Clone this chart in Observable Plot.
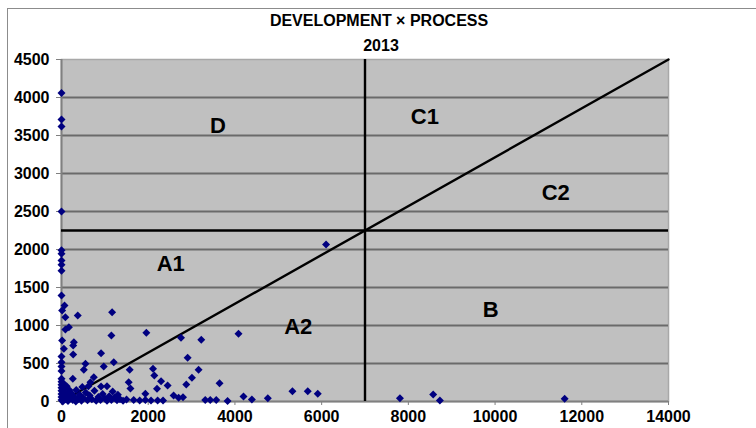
<!DOCTYPE html>
<html>
<head>
<meta charset="utf-8">
<script src="https://cdn.jsdelivr.net/npm/d3@7"></script>
<script src="https://cdn.jsdelivr.net/npm/@observablehq/plot@0.6"></script>
<style>
  body { margin: 0; background: #fff; }
  #chart { position: relative; width: 756px; height: 428px; overflow: hidden; }
  #chart .outline { position: absolute; left: 7px; top: 8px; width: 820px; height: 500px;
    border: 1.5px solid #8c8c8c; box-sizing: border-box; }
  #chart svg { position: absolute; left: 0; top: 0; }
</style>
</head>
<body>
<div id="chart"><div class="outline"></div></div>
<script>
// Development (x) and process (y) scores, 2013
const devX = [
  0, 0, 0, 0, 0, 0, 0, 0, 0, 0,
  70, 15, 90, 375, 1167, 170, 90, 1150, 15, 285,
  270, 55, 270, 0, 0, 0, 0, 913, 1205, 553,
  975, 515, 1573, 261, 745, 668, 913, 1550, 1590,
  1957, 2756, 3224, 2909, 2111, 2141, 3162, 2296, 3009, 2878,
  2203, 2448, 3645, 1934, 2586, 2701, 2802,
  1665, 1803, 1934, 2065, 2217, 2342, 3316, 3431, 3569, 3830,
  4083, 4198, 4391, 4759, 5326, 5680, 5910,
  7806, 8573, 8727, 11605, 6102,
  0, 0, 0, 0, 0, 0, 0, 0, 40, 60,
  80, 50, 100, 120, 150, 180, 200, 230, 260, 300,
  340, 380, 420, 460, 500, 560, 600, 650, 700, 760,
  800, 850, 900, 950, 1000, 1050, 1100, 1150, 1220, 1280,
  1350, 1420, 1500, 30, 150, 330, 480, 620, 1050, 1180, 1300
];
const procY = [
  4060, 3710, 3620, 2500, 1990, 1945, 1855, 1800, 1720, 1395,
  1263, 1197, 1110, 1131, 1175, 978, 947, 868, 803, 780,
  737, 693, 618, 592, 517, 460, 400, 636, 517, 496,
  461, 417, 417, 298, 320, 254, 197, 254, 170,
  904, 838, 812, 575, 430, 342, 417, 267, 312, 224,
  167, 210, 241, 101, 79, 49, 57,
  20, 13, 20, 13, 13, 13, 20, 20, 20, 5,
  890, 66, 26, 43, 136, 136, 101,
  43, 92, 13, 35, 2066,
  300, 260, 220, 180, 140, 100, 60, 20, 240, 170,
  120, 60, 30, 200, 90, 150, 40, 110, 20, 60,
  150, 30, 90, 10, 50, 120, 15, 80, 30, 140,
  10, 60, 20, 100, 40, 10, 70, 20, 50, 15,
  30, 10, 25, 0, 5, 0, 190, 200, 200, 130, 90
];

// Quadrant boundaries and the diagonal dividing A1/A2 and C1/C2
const devSplit = [7000];
const procSplit = [2250];
const diagonalDev = [0, 14000];
const diagonalProc = [0, 4500];

// Zone names and where they sit (data units)
const zoneNames = ["D", "C1", "C2", "A1", "A2", "B"];
const zoneDev = [3610, 8380, 11400, 2520, 5460, 9900];
const zoneProc = [3630, 3740, 2750, 1810, 980, 1200];

// Axis ticks
const xTicks = [0, 2000, 4000, 6000, 8000, 10000, 12000, 14000];
const yTicks = [0, 500, 1000, 1500, 2000, 2500, 3000, 3500, 4000, 4500];

const points = devX.map((d, i) => ({dev: d, proc: procY[i]}));
const diagonal = diagonalDev.map((d, i) => ({dev: d, proc: diagonalProc[i]}));
const zones = zoneNames.map((name, i) => ({name, dev: zoneDev[i], proc: zoneProc[i]}));

const font = "'Liberation Sans', Arial, Helvetica, sans-serif";

const chart = Plot.plot({
  width: 756,
  height: 428,
  marginLeft: 61,
  marginRight: 88,
  marginTop: 59,
  marginBottom: 27,
  style: {fontFamily: font, fontSize: "16px", fontWeight: "bold", background: "transparent", color: "#000"},
  x: {domain: [0, 14000], label: null},
  y: {domain: [0, 4500], label: null},
  marks: [
    Plot.frame({fill: "#c0c0c0", stroke: "#a8a8a8", strokeWidth: 1.5}),
    Plot.gridY(yTicks.slice(1, -1), {stroke: "#6a6a6a", strokeOpacity: 1, strokeWidth: 1.8}),
    Plot.ruleX(xTicks.slice(0, 1), {stroke: "#808080", strokeWidth: 2}),
    Plot.ruleY(yTicks.slice(0, 1), {stroke: "#808080", strokeWidth: 2}),
    Plot.axisX({ticks: xTicks, tickSize: 4, tickPadding: 5, stroke: "#808080", fill: "#000",
      tickFormat: d => String(d), fontSize: 16, fontWeight: "bold"}),
    Plot.axisY({ticks: yTicks, tickSize: 5, tickPadding: 7, stroke: "#808080", fill: "#000",
      tickFormat: d => String(d), fontSize: 16, fontWeight: "bold"}),
    Plot.ruleX(devSplit, {stroke: "#000", strokeWidth: 2.4}),
    Plot.ruleY(procSplit, {stroke: "#000", strokeWidth: 2.4}),
    Plot.line(diagonal, {x: "dev", y: "proc", stroke: "#000", strokeWidth: 2.4}),
    Plot.dot(points, {x: "dev", y: "proc", symbol: "diamond2", r: 3.6, fill: "#000080", stroke: "none"}),
    Plot.text(zones, {x: "dev", y: "proc", text: "name", fontSize: 22, fontWeight: "bold", fill: "#000"}),
    Plot.text(["DEVELOPMENT × PROCESS"], {frameAnchor: "top", lineAnchor: "middle", dx: 14, dy: -39,
      fontSize: 16, fontWeight: "bold", fill: "#000"}),
    Plot.text(["2013"], {frameAnchor: "top", lineAnchor: "middle", dx: 16, dy: -14,
      fontSize: 16, fontWeight: "bold", fill: "#000"})
  ]
});

document.getElementById("chart").appendChild(chart);
</script>
</body>
</html>
